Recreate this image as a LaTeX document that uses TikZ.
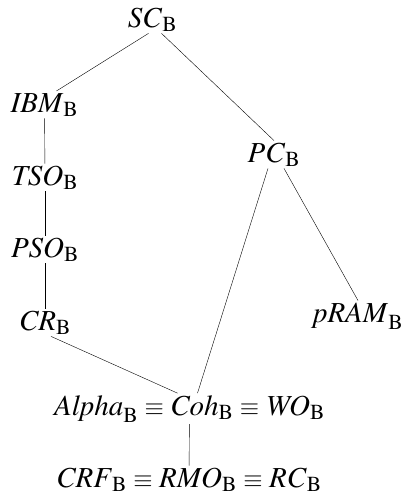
\documentclass[tikz,border=0pt]{standalone}
\usepackage{mathptmx}
\DeclareSymbolFont{cmsyms}{OMS}{cmsy}{m}{n}
\DeclareMathSymbol{\eqv}{\mathrel}{cmsyms}{"11}
\newcommand{\mdl}[1]{\mathit{#1}_{\mathrm{B}}}

\begin{document}
\begin{tikzpicture}[x=1pt,y=-1pt,
    every node/.style={font=\fontsize{29}{34}\selectfont, inner sep=0pt, outer sep=2pt}]
    \useasboundingbox (0,0) rectangle (403,498);

    \node[anchor=base] (sc) at (152.5,27) {$\mdl{SC}$};
    \node[anchor=base] (ibm) at (44.5,112) {$\mdl{IBM}$};
    \node[anchor=base] (tso) at (45,185) {$\mdl{TSO}$};
    \node[anchor=base] (pso) at (45,257) {$\mdl{PSO}$};
    \node[anchor=base] (cr) at (45,330) {$\mdl{CR}$};
    \node[anchor=base] (pc) at (274,162) {$\mdl{PC}$};
    \node[anchor=base west] (pram) at (311,322) {$\mdl{pRAM}$};
    \node[anchor=base] (coh) at (189.5,415) {$\mdl{Alpha} \eqv \mdl{Coh} \eqv \mdl{WO}$};
    \node[anchor=base] (rmo) at (189,487) {$\mdl{CRF} \eqv \mdl{RMO} \eqv \mdl{RC}$};

    \draw ([xshift=-4pt]sc.south) -- ([xshift=12pt]ibm.north);
    \draw ([xshift=9pt]sc.south) -- (pc.north);
    \draw (ibm) -- (tso);
    \draw (tso) -- (pso);
    \draw (pso) -- (cr);
    \draw ([xshift=10pt]pc.south) -- (pram.north);
    \draw ([xshift=-6pt]pc.south) -- ([xshift=8pt]coh.north);
    \draw ([xshift=6pt]cr.south) -- ([xshift=-12pt]coh.north);
    \draw (coh) -- (rmo);
\end{tikzpicture}
\end{document}
